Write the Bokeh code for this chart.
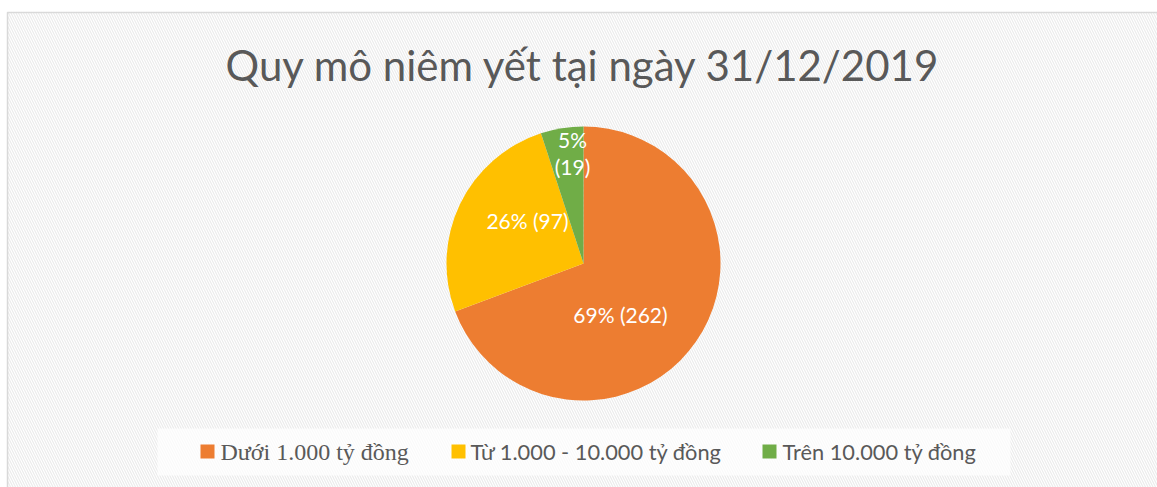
import numpy as np
from bokeh.plotting import figure
from bokeh.models import Range1d
from bokeh.core.properties import value
from bokeh.embed import file_html
from bokeh.resources import INLINE

W, H = 1157, 487

title = "Quy mô niêm yết tại ngày 31/12/2019"
categories = ["Dưới 1.000 tỷ đồng", "Từ 1.000 - 10.000 tỷ đồng", "Trên 10.000 tỷ đồng"]
counts = [262, 97, 19]
percent_labels = ["69%", "26%", "5%"]
colors = ["#ED7D31", "#FFC000", "#70AD47"]

p = figure(width=W, height=H, output_backend="svg", toolbar_location=None,
           x_range=Range1d(0, W), y_range=Range1d(0, H), min_border=0,
           background_fill_color="white", border_fill_color="white")
p.axis.visible = False
p.grid.visible = False
p.outline_line_color = None

def Y(py):
    return H - py

# chart area with hatched background
p.quad(left=7, right=W + 20, top=Y(12), bottom=-20, fill_color="white",
       hatch_pattern="left_diagonal_line", hatch_color="#ebebeb", hatch_scale=5,
       hatch_weight=1.2, line_color="#d9d9d9", line_width=1.5)

# title
p.text(x=[583], y=[Y(64)], text=[title], text_font=value("Lato"), text_font_size="42px",
       text_color="#595959", text_align="center", text_baseline="middle")

# pie
vals = np.array(counts, dtype=float)
frac = vals / vals.sum()
cum = np.concatenate([[0], np.cumsum(frac)])
start = np.pi / 2 - cum[1:] * 2 * np.pi
end = np.pi / 2 - cum[:-1] * 2 * np.pi
cx, cy, r = 583, Y(263), 137
p.wedge(x=[cx] * 3, y=[cy] * 3, radius=r, start_angle=list(start), end_angle=list(end),
        fill_color=colors, line_color=None)

# data labels
lab_font = value("Lato")
lab_size = "21px"
p.text(x=[620], y=[Y(314)], text=[f"{percent_labels[0]} ({counts[0]})"], text_font=lab_font,
       text_font_size=lab_size, text_color="white", text_align="center", text_baseline="middle")
p.text(x=[527], y=[Y(220)], text=[f"{percent_labels[1]} ({counts[1]})"], text_font=lab_font,
       text_font_size=lab_size, text_color="white", text_align="center", text_baseline="middle")
p.text(x=[572, 572], y=[Y(139), Y(166)], text=[percent_labels[2], f"({counts[2]})"],
       text_font=lab_font, text_font_size=lab_size, text_color="white", text_align="center",
       text_baseline="middle")

# legend box
p.quad(left=157, right=1010, top=Y(428), bottom=Y(475), fill_color="white", fill_alpha=0.7,
       line_color=None)
sq_x = [207, 458, 769]
txt_x = [220, 470, 782]
fonts = ["Liberation Serif", "Lato", "Lato"]
sizes = ["24px", "21.8px", "21.8px"]
for i in range(3):
    p.rect(x=sq_x[i], y=Y(451), width=14, height=14, fill_color=colors[i], line_color=None)
    p.text(x=[txt_x[i]], y=[Y(451)], text=[categories[i]], text_font=value(fonts[i]),
           text_font_size=sizes[i], text_color="#595959", text_align="left",
           text_baseline="middle")

open("out.html", "w").write(file_html(p, INLINE))
